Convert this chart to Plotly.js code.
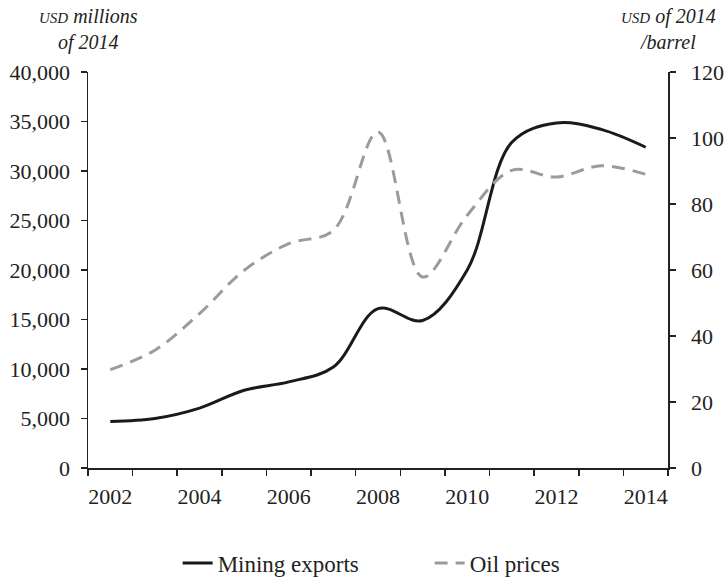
<!DOCTYPE html>
<html>
<head>
<meta charset="utf-8">
<script src="https://cdn.plot.ly/plotly-3.0.1.min.js"></script>
<style>html,body{margin:0;padding:0;background:#fff;}#chart{width:725px;height:577px;}</style>
</head>
<body>
<div id="chart"></div>
<script>
var years = ['2002','2003','2004','2005','2006','2007','2008','2009','2010','2011','2012','2013','2014'];
var yearLabels = ['2002','','2004','','2006','','2008','','2010','','2012','','2014'];
var miningExports = [4700, 5000, 6050, 7850, 8700, 10200, 16100, 14900, 20000, 32900, 34850, 34200, 32400];
var oilPrices = [29.8, 35.7, 46.8, 59.9, 68, 72, 101.8, 57.9, 76.6, 90.2, 88.2, 91.6, 89];
var leftTicks = [0, 5000, 10000, 15000, 20000, 25000, 30000, 35000, 40000];
var rightTicks = [0, 20, 40, 60, 80, 100, 120];

var FONT = 'Liberation Serif, Times New Roman, serif';
var TXT = '#222';

var traces = [
  {x: years, y: miningExports, name: 'Mining exports', type: 'scatter', mode: 'lines',
   line: {color: '#1a1a1a', width: 3, shape: 'spline', smoothing: 1}, yaxis: 'y'},
  {x: years, y: oilPrices, name: 'Oil prices', type: 'scatter', mode: 'lines',
   line: {color: '#9b9b9b', width: 3, dash: '13px,8px', shape: 'spline', smoothing: 1}, yaxis: 'y2'}
];

var layout = {
  width: 725, height: 577,
  margin: {l: 88, r: 57, t: 72, b: 109},
  paper_bgcolor: '#fff', plot_bgcolor: '#fff',
  font: {family: FONT, size: 22, color: TXT},
  showlegend: true,
  legend: {orientation: 'h', xref: 'container', yref: 'container', x: 0.245, xanchor: 'left',
           y: 0.0243, yanchor: 'middle', entrywidth: 207,
           font: {family: FONT, size: 23, color: TXT}, traceorder: 'normal'},
  xaxis: {type: 'category', range: [-0.5, 12.5], tickmode: 'array', tickvals: years, ticktext: yearLabels,
          tickson: 'boundaries', ticks: 'outside', ticklen: 6, tickwidth: 1.5, tickcolor: '#222', tickangle: 0,
          showline: true, linecolor: '#222', linewidth: 1.5, showgrid: false, zeroline: false, automargin: false,
          ticklabelstandoff: 8, tickfont: {family: FONT, size: 22, color: TXT}},
  yaxis: {range: [0, 40000], tickmode: 'array', tickvals: leftTicks, tickformat: ',d',
          ticks: 'outside', ticklen: 6, tickwidth: 1.5, tickcolor: '#222', automargin: false,
          showline: true, linecolor: '#222', linewidth: 1.5, showgrid: false, zeroline: false,
          ticklabelstandoff: 6, tickfont: {family: FONT, size: 22, color: TXT}},
  yaxis2: {range: [0, 120], overlaying: 'y', side: 'right', tickmode: 'array', tickvals: rightTicks,
           ticks: 'outside', ticklen: 6, tickwidth: 1.5, tickcolor: '#222', automargin: false,
           showline: true, linecolor: '#222', linewidth: 1.5, showgrid: false, zeroline: false,
           ticklabelstandoff: 11, tickfont: {family: FONT, size: 22, color: TXT}},
  annotations: [
    {xref: 'paper', yref: 'paper', x: 0, y: 1.108, xanchor: 'center', yanchor: 'middle', showarrow: false,
     text: '<i><span style="font-size:15px">USD</span> millions<br>of 2014</i>',
     font: {family: FONT, size: 20, color: TXT}},
    {xref: 'paper', yref: 'paper', x: 1, y: 1.108, xanchor: 'center', yanchor: 'middle', showarrow: false,
     text: '<i><span style="font-size:15px">USD</span> of 2014<br>/barrel</i>',
     font: {family: FONT, size: 20, color: TXT}}
  ]
};

Plotly.newPlot('chart', traces, layout, {displayModeBar: false, staticPlot: true});
</script>
</body>
</html>
